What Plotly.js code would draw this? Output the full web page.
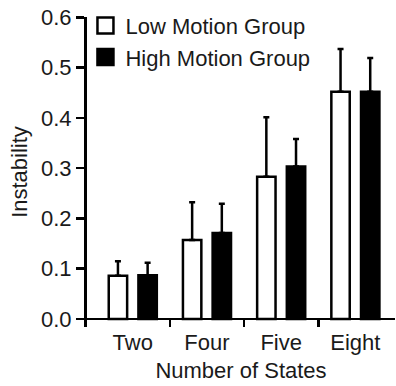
<!DOCTYPE html>
<html>
<head>
<meta charset="utf-8">
<script src="https://cdn.plot.ly/plotly-3.0.1.min.js"></script>
<style>html,body{margin:0;padding:0;background:#fff;}#chart{width:396px;height:386px;}</style>
</head>
<body>
<div id="chart"></div>
<script>
const categories = ["Two", "Four", "Five", "Eight"];
const seriesNames = ["Low Motion Group", "High Motion Group"];
const lowValues = [0.086, 0.157, 0.283, 0.452];
const lowErrors = [0.029, 0.075, 0.118, 0.085];
const highValues = [0.087, 0.171, 0.303, 0.452];
const highErrors = [0.025, 0.058, 0.055, 0.067];
const yTicks = [0, 0.1, 0.2, 0.3, 0.4, 0.5, 0.6];

const xIdx = categories.map((c, i) => i);
const boundaries = categories.slice(1).map((c, i) => i + 0.5);
const FONT = "Liberation Sans, Arial, Helvetica, sans-serif";
const TXT = "#1a1a1a";
const FS = 22;

function barTrace(name, vals, errs, fill) {
  return {
    type: "bar", name: name, x: xIdx, y: vals, showlegend: false,
    marker: {color: fill, line: {color: "black", width: 2.5}},
    error_y: {type: "data", symmetric: false, array: errs, arrayminus: errs.map(() => 0),
              color: "black", thickness: 2.5, width: 3}
  };
}
function legendTrace(name, fill) {
  return {
    type: "scatter", mode: "markers", name: name, x: [null], y: [null],
    marker: {symbol: "square", size: 16, color: fill, line: {color: "black", width: 2.5}}
  };
}

const data = [
  barTrace(seriesNames[0], lowValues, lowErrors, "white"),
  barTrace(seriesNames[1], highValues, highErrors, "black"),
  legendTrace(seriesNames[0], "white"),
  legendTrace(seriesNames[1], "black")
];

const layout = {
  width: 396, height: 386,
  margin: {l: 87, r: 1, t: 17, b: 59},
  paper_bgcolor: "white", plot_bgcolor: "white",
  font: {family: FONT, size: FS, color: TXT},
  barmode: "group", bargap: 0.2, bargroupgap: 0.38,
  showlegend: true,
  legend: {x: -0.005, y: 1.04, xanchor: "left", yanchor: "top", bgcolor: "rgba(0,0,0,0)",
           font: {family: FONT, size: FS, color: TXT}, traceorder: "normal"},
  xaxis: {
    range: [-0.617, 3.534], tickmode: "array", tickvals: xIdx, ticktext: categories,
    ticks: "", showline: false, showgrid: false, zeroline: false, fixedrange: true,
    tickfont: {family: FONT, size: FS, color: TXT},
    minor: {tickmode: "array", tickvals: boundaries, ticks: "inside", ticklen: 8,
            tickwidth: 2.5, tickcolor: "black", showgrid: false},
    title: {text: "Number of States", font: {family: FONT, size: FS, color: TXT}, standoff: 8}
  },
  yaxis: {
    range: [-0.0159, 0.6005], tickmode: "array", tickvals: yTicks, tickformat: ".1f",
    ticks: "outside", ticklen: 8, tickwidth: 2.5, tickcolor: "black",
    showline: true, linewidth: 3, linecolor: "black", mirror: false,
    zeroline: true, zerolinecolor: "black", zerolinewidth: 2.5, showgrid: false,
    tickfont: {family: FONT, size: FS, color: TXT},
    title: {text: "Instability", font: {family: FONT, size: FS, color: TXT}, standoff: 8}
  }
};

Plotly.newPlot("chart", data, layout, {staticPlot: true, displayModeBar: false});
</script>
</body>
</html>
